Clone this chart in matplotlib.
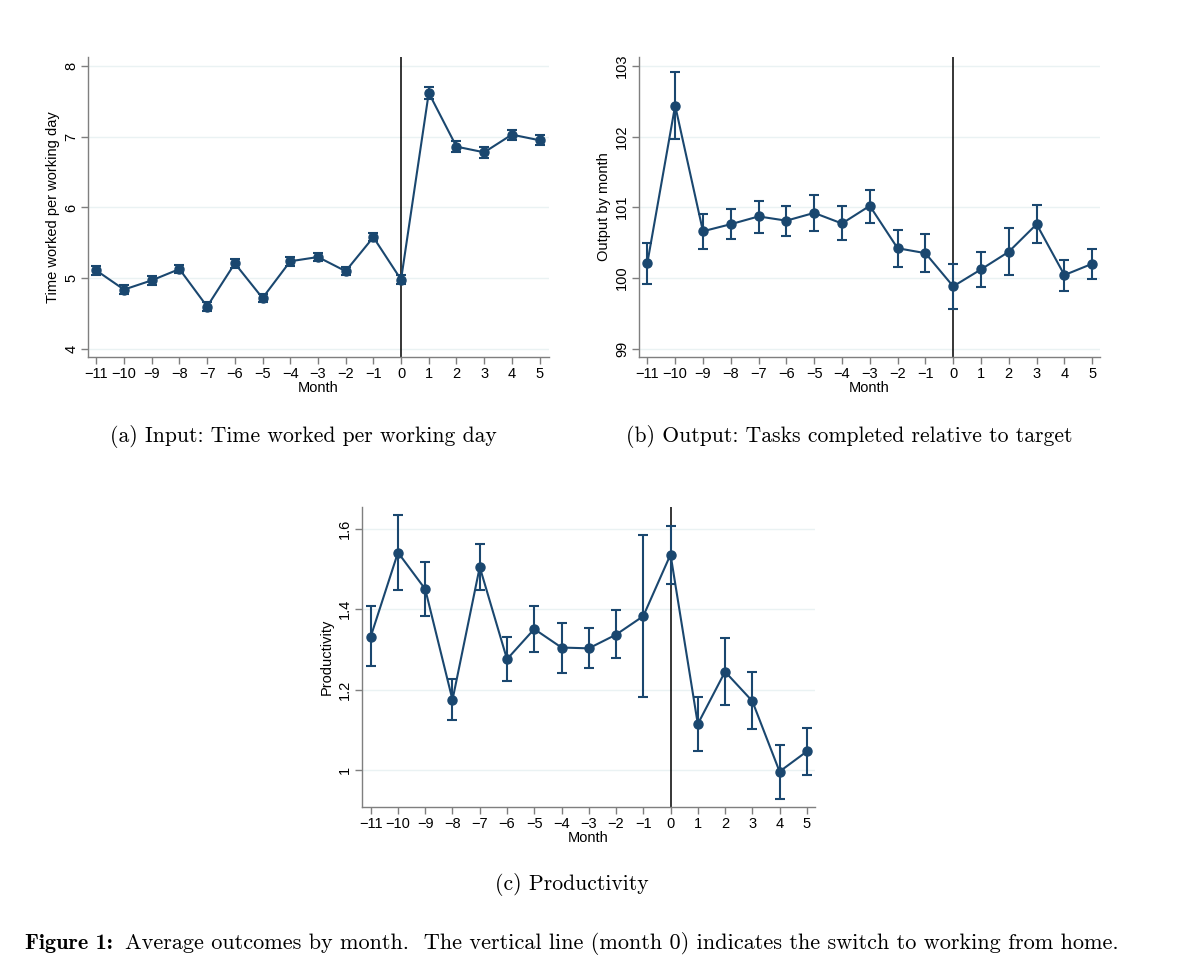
import matplotlib
matplotlib.use("Agg")
import matplotlib.pyplot as plt
import numpy as np

months = list(range(-11, 6))

# (a) time worked per working day: mean, lower CI, upper CI
time_mean = [5.11, 4.84, 4.97, 5.13, 4.60, 5.21, 4.72, 5.24, 5.30, 5.10, 5.58, 4.98, 7.62, 6.86, 6.78, 7.03, 6.95]
time_lo = [5.05, 4.78, 4.91, 5.07, 4.54, 5.15, 4.66, 5.18, 5.24, 5.04, 5.52, 4.92, 7.53, 6.78, 6.70, 6.96, 6.88]
time_hi = [5.17, 4.90, 5.03, 5.19, 4.66, 5.27, 4.78, 5.30, 5.36, 5.16, 5.64, 5.04, 7.71, 6.94, 6.86, 7.10, 7.02]

# (b) output by month
out_mean = [100.21, 102.44, 100.66, 100.76, 100.87, 100.81, 100.92, 100.77, 101.02, 100.42, 100.35, 99.88, 100.12, 100.37, 100.76, 100.04, 100.20]
out_lo = [99.92, 101.97, 100.41, 100.55, 100.64, 100.60, 100.66, 100.53, 100.78, 100.16, 100.08, 99.56, 99.87, 100.04, 100.50, 99.82, 99.99]
out_hi = [100.50, 102.92, 100.91, 100.98, 101.09, 101.02, 101.17, 101.02, 101.25, 100.68, 100.62, 100.20, 100.36, 100.70, 101.03, 100.26, 100.41]

# (c) productivity
prod_mean = [1.332, 1.541, 1.450, 1.175, 1.505, 1.276, 1.351, 1.305, 1.303, 1.337, 1.383, 1.536, 1.115, 1.245, 1.172, 0.997, 1.047]
prod_lo = [1.258, 1.449, 1.383, 1.124, 1.447, 1.222, 1.295, 1.242, 1.253, 1.278, 1.181, 1.464, 1.047, 1.162, 1.102, 0.930, 0.988]
prod_hi = [1.407, 1.633, 1.517, 1.226, 1.563, 1.332, 1.408, 1.367, 1.353, 1.397, 1.585, 1.607, 1.182, 1.328, 1.244, 1.064, 1.106]

navy = "#1a476f"
gridc = "#eaf2f3"
spinec = "#7f7f7f"
sans = ["Liberation Sans", "DejaVu Sans"]

W, H = 1200, 980
fig = plt.figure(figsize=(12, 9.8), dpi=100)
fig.patch.set_facecolor("white")


def px_axes(l, t, r, b):
    return fig.add_axes([l / W, 1 - b / H, (r - l) / W, (b - t) / H])


def panel(ax, mean, lo, hi, yticks, ylim, ylabel, xlim):
    mean = np.array(mean)
    err = [mean - np.array(lo), np.array(hi) - mean]
    ax.errorbar(months, mean, yerr=err, fmt="none", ecolor=navy, elinewidth=1.5,
                capsize=3.5, capthick=1.5, zorder=3)
    ax.plot(months, mean, color=navy, lw=1.5, marker="o", ms=6.5, zorder=4)
    ax.axvline(0, color="black", lw=1.1, zorder=2)
    ax.set_xlim(*xlim)
    ax.set_ylim(*ylim)
    ax.set_xticks(months)
    ax.set_xticklabels([str(m).replace("-", "\u2212") for m in months], family=sans, fontsize=10.5)
    ax.set_yticks(yticks)
    ax.set_yticklabels([("%g" % v) for v in yticks], family=sans, fontsize=10.5,
                       rotation=90, va="center")
    ax.grid(axis="y", color=gridc, lw=1.0, zorder=0)
    ax.set_axisbelow(True)
    for s in ["top", "right"]:
        ax.spines[s].set_visible(False)
    for s in ["left", "bottom"]:
        ax.spines[s].set_color(spinec)
        ax.spines[s].set_linewidth(1.0)
    ax.tick_params(colors="black", length=5, width=1.0, pad=2)
    ax.tick_params(axis="both", color=spinec)
    ax.set_xlabel("Month", family=sans, fontsize=10.5, labelpad=0)
    ax.set_ylabel(ylabel, family=sans, fontsize=10.5, labelpad=3)


ax_a = px_axes(88, 57, 549, 357)
panel(ax_a, time_mean, time_lo, time_hi, [4, 5, 6, 7, 8], (3.887, 8.127),
      "Time worked per working day", (-11.3, 5.34))

ax_b = px_axes(639, 57, 1100, 357)
panel(ax_b, out_mean, out_lo, out_hi, [99, 100, 101, 102, 103], (98.88, 103.127),
      "Output by month", (-11.3, 5.28))

ax_c = px_axes(362, 507, 815, 807)
panel(ax_c, prod_mean, prod_lo, prod_hi, [1.0, 1.2, 1.4, 1.6], (0.909, 1.654),
      "Productivity", (-11.32, 5.3))
ax_c.set_yticklabels(["1", "1.2", "1.4", "1.6"], family=sans, fontsize=10.5, rotation=90, va="center")

cap_fs = 15.6
fig.text(303 / W, 1 - 436 / H, "(a) Input: Time worked per working day", family="cmr10",
         fontsize=cap_fs, ha="center", va="center")
fig.text(849 / W, 1 - 436 / H, "(b) Output: Tasks completed relative to target", family="cmr10",
         fontsize=cap_fs, ha="center", va="center")
fig.text(572 / W, 1 - 885 / H, "(c) Productivity", family="cmr10",
         fontsize=cap_fs, ha="center", va="center")

fig_fs = 16
t1 = fig.text(25 / W, 1 - 949 / H, "Figure 1:", family="cmb10", fontsize=fig_fs,
              ha="left", va="baseline")
fig.canvas.draw()
bb = t1.get_window_extent(fig.canvas.get_renderer())
fig.text((bb.x1 + 12) / W, 1 - 949 / H,
         "Average outcomes by month.  The vertical line (month 0) indicates the switch to working from home.",
         family="cmr10", fontsize=fig_fs, ha="left", va="baseline")

fig.savefig("out.png", dpi=100, facecolor="white")
